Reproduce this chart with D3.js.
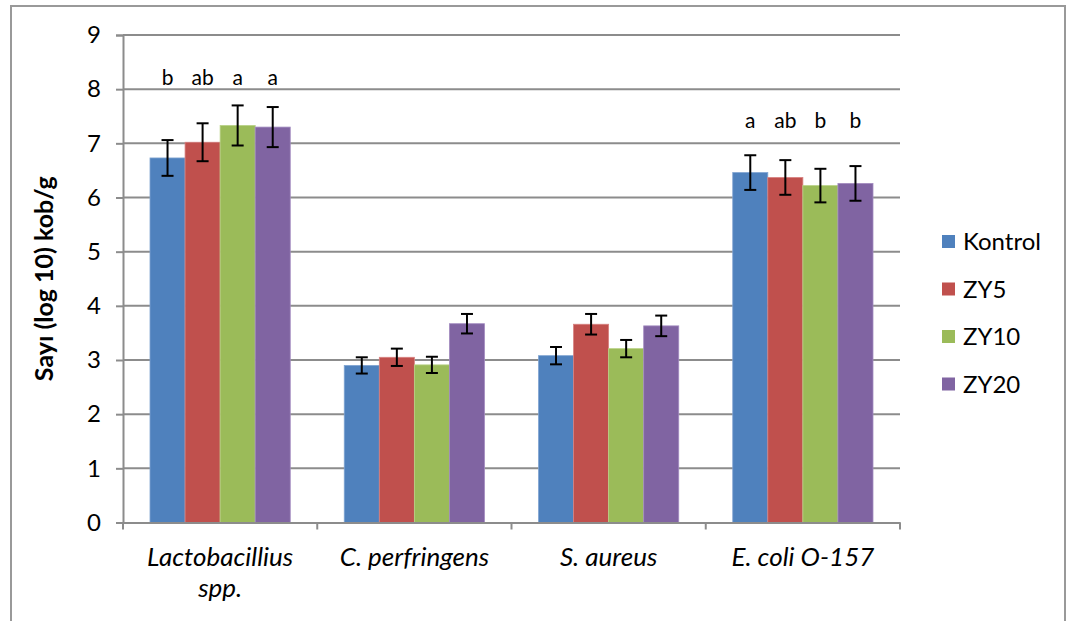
<!DOCTYPE html>
<html>
<head>
<meta charset="utf-8">
<script src="https://cdn.jsdelivr.net/npm/d3@7"></script>
<style>
  html, body { margin: 0; padding: 0; background: #fff; }
  svg { display: block; font-family: Lato, "Open Sans", sans-serif; }
</style>
</head>
<body>
<svg id="chart" width="1071" height="621"></svg>
<script>
// Bacterial counts by group (log10 cfu/g)
const categories = ["Lactobacillius spp.", "C. perfringens", "S. aureus", "E. coli O-157"];
const seriesNames = ["Kontrol", "ZY5", "ZY10", "ZY20"];
const kontrol = [6.73, 2.90, 3.08, 6.46];
const zy5     = [7.02, 3.05, 3.66, 6.37];
const zy10    = [7.33, 2.91, 3.21, 6.22];
const zy20    = [7.30, 3.67, 3.63, 6.26];
const errKontrol = [0.33, 0.15, 0.16, 0.32];
const errZy5     = [0.35, 0.16, 0.19, 0.32];
const errZy10    = [0.37, 0.15, 0.16, 0.31];
const errZy20    = [0.37, 0.18, 0.19, 0.32];
// significance letters above each group
const lettersLacto = ["b", "ab", "a", "a"];
const lettersEcoli = ["a", "ab", "b", "b"];
const yTicks = [0, 1, 2, 3, 4, 5, 6, 7, 8, 9];

const values = [kontrol, zy5, zy10, zy20];
const errors = [errKontrol, errZy5, errZy10, errZy20];
const letters = { "Lactobacillius spp.": lettersLacto, "E. coli O-157": lettersEcoli };
const colors = ["#4F81BD", "#C0504D", "#9BBB59", "#8064A2"];
const strokes = ["#7FA3D1", "#D88280", "#B9D287", "#A38CC0"];

const svg = d3.select("#chart");
const gray = "#8C8C8C";

// outer frame
svg.append("path")
  .attr("d", "M11,621 V6 H1065 V621")
  .attr("fill", "none").attr("stroke", "#999").attr("stroke-width", 2);

const x0 = d3.scaleBand().domain(categories).range([123, 900]);
const x1 = d3.scaleBand().domain(seriesNames).range([27, x0.bandwidth() - 27]);
const y = d3.scaleLinear().domain([0, 9]).range([522.5, 35]);

// gridlines
svg.append("g").selectAll("line").data(yTicks.filter(t => t > 0)).join("line")
  .attr("x1", 123).attr("x2", 900)
  .attr("y1", d => y(d)).attr("y2", d => y(d))
  .attr("stroke", gray).attr("stroke-width", 2);

// y axis
const yAxis = svg.append("g").attr("transform", "translate(123,0)")
  .call(d3.axisLeft(y).tickValues(yTicks).tickSize(7).tickPadding(15).tickFormat(d3.format("d")));
yAxis.attr("font-size", null).attr("font-family", null);
yAxis.select(".domain").attr("stroke", gray).attr("stroke-width", 2);
yAxis.selectAll(".tick line").attr("stroke", gray).attr("stroke-width", 2);
yAxis.selectAll(".tick text").attr("font-size", 24).attr("fill", "#000");

// bars
const groups = svg.append("g").selectAll("g").data(categories).join("g")
  .attr("transform", c => `translate(${x0(c)},0)`);

groups.selectAll("rect")
  .data((c, ci) => seriesNames.map((s, si) => ({ s, si, v: values[si][ci], e: errors[si][ci] })))
  .join("rect")
  .attr("x", d => x1(d.s))
  .attr("width", x1.bandwidth())
  .attr("y", d => y(d.v))
  .attr("height", d => y(0) - y(d.v))
  .attr("fill", d => colors[d.si])
  .attr("stroke", d => strokes[d.si]).attr("stroke-width", 0.8);

// error bars
const eb = groups.selectAll("g.err")
  .data((c, ci) => seriesNames.map((s, si) => ({ s, si, v: values[si][ci], e: errors[si][ci] })))
  .join("g").attr("class", "err")
  .attr("transform", d => `translate(${x1(d.s) + x1.bandwidth() / 2},0)`);
eb.append("line").attr("y1", d => y(d.v + d.e)).attr("y2", d => y(d.v - d.e))
  .attr("stroke", "#000").attr("stroke-width", 2);
eb.append("line").attr("x1", -6).attr("x2", 6)
  .attr("y1", d => y(d.v + d.e)).attr("y2", d => y(d.v + d.e))
  .attr("stroke", "#000").attr("stroke-width", 2);
eb.append("line").attr("x1", -6).attr("x2", 6)
  .attr("y1", d => y(d.v - d.e)).attr("y2", d => y(d.v - d.e))
  .attr("stroke", "#000").attr("stroke-width", 2);

// significance letters
groups.filter(c => letters[c]).selectAll("text.sig")
  .data(c => letters[c].map((l, si) => ({ l, s: seriesNames[si], c })))
  .join("text").attr("class", "sig")
  .attr("x", d => x1(d.s) + x1.bandwidth() / 2)
  .attr("y", d => d.c === categories[0] ? 85 : 128)
  .attr("text-anchor", "middle")
  .attr("font-size", 21).attr("fill", "#000")
  .text(d => d.l);

// x axis
const xAxis = svg.append("g").attr("transform", `translate(0,${y(0)})`)
  .call(d3.axisBottom(x0).tickSize(0).tickFormat(""));
xAxis.select(".domain").attr("stroke", gray).attr("stroke-width", 2);
svg.append("g").selectAll("line").data(d3.range(categories.length + 1)).join("line")
  .attr("x1", i => 123 + i * x0.bandwidth()).attr("x2", i => 123 + i * x0.bandwidth())
  .attr("y1", y(0)).attr("y2", y(0) + 7)
  .attr("stroke", gray).attr("stroke-width", 2);

// category labels (first one wraps onto two lines)
const catLabels = svg.append("g").selectAll("text").data(categories).join("text")
  .attr("text-anchor", "middle")
  .attr("font-size", 26).attr("font-style", "italic").attr("fill", "#000")
  .attr("transform", c => `translate(${x0(c) + x0.bandwidth() / 2},566)`);
catLabels.each(function (c) {
  const t = d3.select(this);
  if (c === categories[0]) {
    const parts = c.split(" ");
    t.append("tspan").attr("x", 0).attr("y", 0).text(parts[0]);
    t.append("tspan").attr("x", 0).attr("y", 31).text(parts[1]);
  } else {
    t.append("tspan").attr("x", 0).attr("y", 0).text(c);
  }
});

// y axis title
svg.append("text")
  .attr("transform", `translate(53,${y(4.5)}) rotate(-90)`)
  .attr("text-anchor", "middle")
  .attr("font-size", 25).attr("font-weight", "bold").attr("fill", "#000")
  .text("Sayı (log 10) kob/g");

// legend
const legend = svg.append("g").selectAll("g").data(seriesNames).join("g")
  .attr("transform", (s, i) => `translate(942,${242 + i * 47.5})`);
legend.append("rect").attr("x", 0).attr("y", -7).attr("width", 13).attr("height", 13)
  .attr("fill", (s, i) => colors[i]);
legend.append("text").attr("x", 21).attr("y", 8)
  .attr("font-size", 24).attr("fill", "#000").text(s => s);
</script>
</body>
</html>
